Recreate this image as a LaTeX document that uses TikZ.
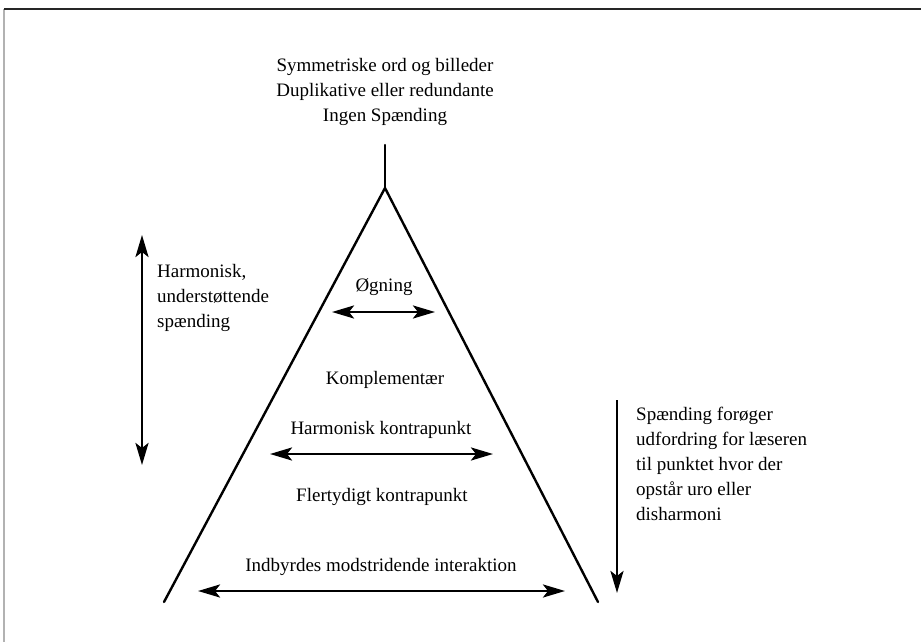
\documentclass[tikz,border=0pt]{standalone}
\usepackage{fontspec}
\setmainfont{Liberation Serif}
\usetikzlibrary{arrows.meta}
\begin{document}
\begin{tikzpicture}[x=1pt,y=-1pt,
  txt/.style={inner sep=0pt,font=\fontsize{19}{25}\selectfont},
  edge/.style={line width=2.4pt,line cap=round},
  dbl/.style={line width=2.8pt,{Stealth[length=22pt,width=13pt,inset=5pt]}-{Stealth[length=22pt,width=13pt,inset=5pt]}},
  sgl/.style={line width=2.8pt,-{Stealth[length=22pt,width=13pt,inset=5pt]}}]
\useasboundingbox (0,0) rectangle (921,642);
% frame
\draw[gray!60,line width=1.2pt] (4,660) -- (4,9);
\draw[black!85,line width=1.4pt] (4,9) -- (930,9);
% triangle
\coordinate (top) at (385,145);
\coordinate (apex) at (385,188);
\coordinate (bl) at (164,602);
\coordinate (br) at (598,602);
\draw[edge] (top) -- (apex);
\draw[edge,line join=miter] (bl) -- (apex) -- (br);
% texts
\node[txt,align=center] (title) at (385,92) {Symmetriske ord og billeder\\Duplikative eller redundante\\Ingen Spænding};
\node[txt] (oeg) at (384,287) {Øgning};
\node[txt] (komp) at (385,380) {Komplementær};
\node[txt] (harm) at (381,430) {Harmonisk kontrapunkt};
\node[txt] (fler) at (382,497) {Flertydigt kontrapunkt};
\node[txt] (indb) at (381,567) {Indbyrdes modstridende interaktion};
\node[txt,align=left,anchor=west] (left) at (157,298) {Harmonisk,\\understøttende\\spænding};
\node[txt,align=left,anchor=west] (right) at (636,464) {Spænding forøger\\udfordring for læseren\\til punktet hvor der\\opstår uro eller\\disharmoni};
% arrows
\coordinate (oegL) at (332,312); \coordinate (oegR) at (435,312);
\coordinate (harmL) at (270,454); \coordinate (harmR) at (493,454);
\coordinate (indbL) at (198,591); \coordinate (indbR) at (565,591);
\coordinate (lT) at (142,235); \coordinate (lB) at (142,465);
\coordinate (rT) at (617,400); \coordinate (rB) at (617,593);
\draw[dbl] (oegL) -- (oegR);
\draw[dbl] (harmL) -- (harmR);
\draw[dbl] (indbL) -- (indbR);
\draw[dbl] (lT) -- (lB);
\draw[sgl] (rT) -- (rB);
\end{tikzpicture}
\end{document}
